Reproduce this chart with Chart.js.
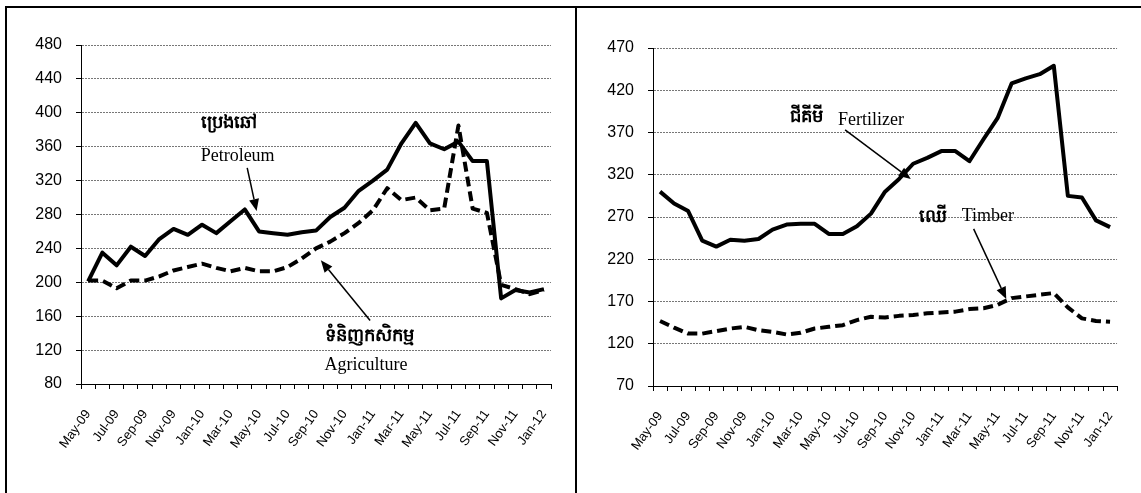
<!DOCTYPE html>
<html>
<head>
<meta charset="utf-8">
<script src="https://cdn.jsdelivr.net/npm/chart.js@4.4.0/dist/chart.umd.min.js"></script>
<style>
  html, body { margin: 0; padding: 0; background: #fff; }
  #page { position: relative; width: 1141px; height: 493px; overflow: hidden; }
  .panel { position: absolute; top: 0; height: 493px; }
  #left { left: 0; width: 575px; }
  #right { left: 575px; width: 566px; }
  .frame { position: absolute; top: 6px; height: 493px; border-top: 2px solid #000; border-left: 2px solid #000; pointer-events: none; }
</style>
</head>
<body>
<div id="page">
  <div class="panel" id="left"><canvas id="leftChart"></canvas></div>
  <div class="panel" id="right"><canvas id="rightChart"></canvas></div>
  <div class="frame" style="left:5px; width:570px;"></div>
  <div class="frame" style="left:575px; width:566px;"></div>
</div>
<script>
// monthly index values, May-09 .. Jan-12
const months = ['May-09', 'Jun-09', 'Jul-09', 'Aug-09', 'Sep-09', 'Oct-09', 'Nov-09', 'Dec-09',
    'Jan-10', 'Feb-10', 'Mar-10', 'Apr-10', 'May-10', 'Jun-10', 'Jul-10', 'Aug-10', 'Sep-10',
    'Oct-10', 'Nov-10', 'Dec-10', 'Jan-11', 'Feb-11', 'Mar-11', 'Apr-11', 'May-11', 'Jun-11',
    'Jul-11', 'Aug-11', 'Sep-11', 'Oct-11', 'Nov-11', 'Dec-11', 'Jan-12'];

const petroleum = [201, 235, 220, 242, 231, 251, 263, 256, 268, 258, 272, 286, 260, 258, 256, 259, 261,
    277, 288, 308, 320, 333, 364, 388, 364, 357, 366, 343, 343, 181, 191, 188, 192];
const agriculture = [202, 202, 193, 202, 202, 207, 214, 218, 222, 217, 213, 217, 213, 213, 218, 228, 240,
    248, 258, 270, 285, 311, 297, 300, 285, 287, 385, 287, 282, 197, 192, 186, 191];

const fertilizer = [300, 286, 277, 242, 235, 243, 242, 244, 255, 261, 262, 262, 250, 250, 259, 274, 300,
    315, 333, 340, 348, 348, 336, 362, 387, 428, 434, 439, 449, 295, 293, 266, 258];
const timber = [147, 139, 132, 132, 135, 138, 140, 136, 134, 131, 133, 138, 140, 142, 148, 152, 151,
    153, 154, 156, 157, 158, 161, 162, 166, 174, 176, 178, 180, 163, 150, 147, 146];

const leftTicks = [80, 120, 160, 200, 240, 280, 320, 360, 400, 440, 480];
const rightTicks = [70, 120, 170, 220, 270, 320, 370, 420, 470];

// labels and arrows drawn over the plot, placed in data units
const notesPlugin = {
    id: 'notes',
    afterDatasetsDraw(chart, args, opts) {
        const xs = chart.scales.x, ys = chart.scales.y, ctx = chart.ctx;
        ctx.save();
        ctx.fillStyle = '#000';
        ctx.strokeStyle = '#000';
        ctx.textAlign = 'left';
        ctx.textBaseline = 'middle';
        (opts.texts || []).forEach(t => {
            ctx.font = t.font;
            ctx.fillText(t.text, xs.getPixelForValue(t.at[0]), ys.getPixelForValue(t.at[1]));
        });
        (opts.arrows || []).forEach(a => {
            const x1 = xs.getPixelForValue(a.from[0]), y1 = ys.getPixelForValue(a.from[1]);
            const x2 = xs.getPixelForValue(a.to[0]), y2 = ys.getPixelForValue(a.to[1]);
            const ang = Math.atan2(y2 - y1, x2 - x1);
            const len = 12, half = 5;
            ctx.lineWidth = 1.5;
            ctx.beginPath();
            ctx.moveTo(x1, y1);
            ctx.lineTo(x2 - Math.cos(ang) * len, y2 - Math.sin(ang) * len);
            ctx.stroke();
            ctx.beginPath();
            ctx.moveTo(x2, y2);
            ctx.lineTo(x2 - Math.cos(ang) * len - Math.sin(ang) * half, y2 - Math.sin(ang) * len + Math.cos(ang) * half);
            ctx.lineTo(x2 - Math.cos(ang) * len + Math.sin(ang) * half, y2 - Math.sin(ang) * len - Math.cos(ang) * half);
            ctx.closePath();
            ctx.fill();
        });
        ctx.restore();
    }
};

const khmerFont = 'bold 18px "Liberation Serif", "DejaVu Serif", serif';
const latinFont = '18px "Liberation Serif", "Times New Roman", serif';

function makeChart(id, solid, dashed, ticks, box, notes) {
    const ctx = document.getElementById(id);
    return new Chart(ctx, {
        type: 'line',
        data: {
            labels: months,
            datasets: [{
                data: solid,
                borderColor: '#000',
                borderWidth: 4,
                borderJoinStyle: 'round',
                pointRadius: 0,
                tension: 0,
                fill: false
            }, {
                data: dashed,
                borderColor: '#000',
                borderWidth: 4,
                borderDash: [10, 5],
                borderJoinStyle: 'round',
                pointRadius: 0,
                tension: 0,
                fill: false
            }]
        },
        options: {
            responsive: true,
            maintainAspectRatio: false,
            animation: false,
            layout: {
                padding: { left: 0, right: box.right, top: box.top, bottom: 0 }
            },
            plugins: {
                legend: { display: false },
                tooltip: { enabled: false },
                notes: notes
            },
            scales: {
                x: {
                    offset: true,
                    afterFit: function(scale) { scale.height = box.xHeight; },
                    grid: {
                        offset: true,
                        drawOnChartArea: false,
                        drawTicks: true,
                        tickLength: 5,
                        tickColor: '#000',
                        color: '#000'
                    },
                    border: { display: true, color: '#000', width: 1 },
                    ticks: {
                        autoSkip: false,
                        maxRotation: 54,
                        minRotation: 54,
                        padding: 18,
                        color: '#000',
                        font: { family: '"Liberation Sans", Arial, sans-serif', size: 13 },
                        callback: function(value, index) {
                            return index % 2 === 0 ? months[index] : '';
                        }
                    }
                },
                y: {
                    min: ticks[0],
                    max: ticks[ticks.length - 1],
                    afterFit: function(scale) { scale.width = box.yWidth; },
                    grid: {
                        color: '#777',
                        lineWidth: 1,
                        tickLength: 5,
                        tickColor: '#000',
                        tickBorderDash: []
                    },
                    border: { display: true, color: '#000', width: 1, dash: [2, 1] },
                    ticks: {
                        stepSize: ticks[1] - ticks[0],
                        padding: 14,
                        color: '#000',
                        font: { family: '"Liberation Sans", Arial, sans-serif', size: 16 }
                    }
                }
            }
        },
        plugins: [notesPlugin]
    });
}

makeChart('leftChart', petroleum, agriculture, leftTicks,
    { right: 24, top: 45, xHeight: 109, yWidth: 81 },
    {
        texts: [
            { text: 'ប្រេងឆៅ', font: khmerFont, at: [7.9, 387] },
            { text: 'Petroleum', font: latinFont, at: [7.9, 349] },
            { text: 'ទំនិញកសិកម្ម', font: khmerFont, at: [16.6, 136] },
            { text: 'Agriculture', font: latinFont, at: [16.6, 102] }
        ],
        arrows: [
            { from: [11.17, 335], to: [11.83, 284] },
            { from: [19.8, 155], to: [16.34, 226] }
        ]
    });

makeChart('rightChart', fertilizer, timber, rightTicks,
    { right: 22, top: 48, xHeight: 107, yWidth: 78 },
    {
        texts: [
            { text: 'ជីគីមី', font: khmerFont, at: [9.26, 388] },
            { text: 'Fertilizer', font: latinFont, at: [12.65, 384] },
            { text: 'ឈើ', font: khmerFont, at: [18.4, 270] },
            { text: 'Timber', font: latinFont, at: [21.45, 271] }
        ],
        arrows: [
            { from: [13.16, 373], to: [17.83, 315] },
            { from: [22.3, 256], to: [24.62, 173] }
        ]
    });
</script>
</body>
</html>
